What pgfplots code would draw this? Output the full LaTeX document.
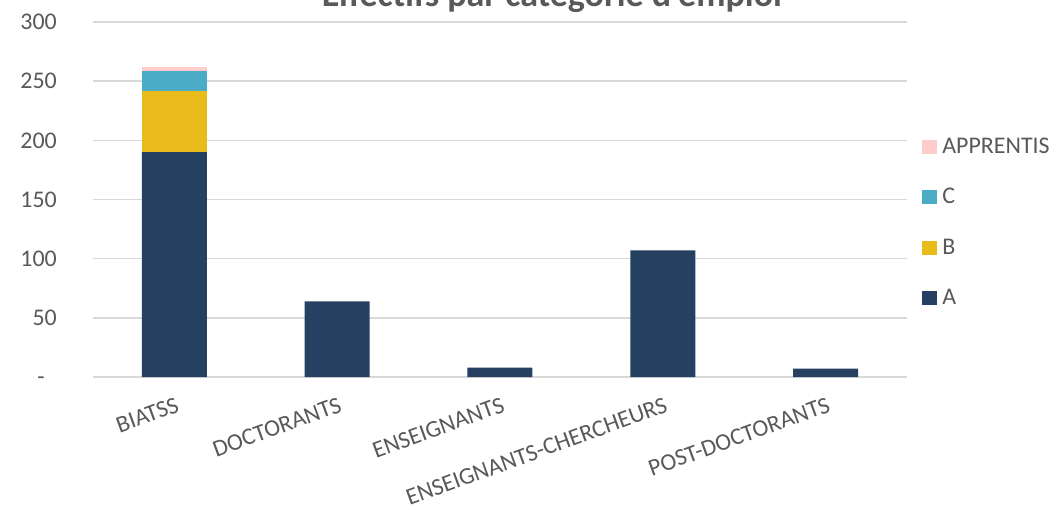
\documentclass[border=0pt]{standalone}
\usepackage{pgfplots}
\pgfplotsset{compat=1.18}
\usepackage{fontspec}
\setmainfont{Carlito}

\definecolor{catA}{HTML}{264061}
\definecolor{catB}{HTML}{E9BC1C}
\definecolor{catC}{HTML}{4BACC6}
\definecolor{catApp}{HTML}{FFCCCC}
\definecolor{txt}{HTML}{595959}
\definecolor{gridc}{HTML}{D9D9D9}

\begin{document}
\begin{tikzpicture}[font=\fontsize{13.6}{15}\selectfont]
\begin{axis}[
    at={(0,0)}, anchor=south west,
    scale only axis,
    width=16.28cm, height=7.1cm,
    ybar stacked,
    bar width=1.3cm,
    xmin=-0.5, xmax=4.5,
    ymin=0, ymax=300,
    xtick={0,1,2,3,4},
    xticklabels={BIATSS, DOCTORANTS, ENSEIGNANTS, ENSEIGNANTS-CHERCHEURS, POST-DOCTORANTS},
    xticklabel style={rotate=20, anchor=north east, text=txt, yshift=-0.25cm, xshift=0cm},
    ytick={0,50,100,150,200,250,300},
    yticklabels={-\phantom{0},50,100,150,200,250,300},
    yticklabel style={text=txt, xshift=-0.6cm},
    major tick length=0pt,
    ymajorgrids,
    grid style={gridc, line width=0.8pt},
    axis line style={draw=none},
    axis x line*=bottom,
    x axis line style={draw=gridc, line width=0.8pt},
    axis y line*=left,
    y axis line style={draw=none},
    /pgf/number format/assume math mode=true,
    legend style={
        at={(1.012,0.435)}, anchor=west,
        draw=none, fill=none,
        text=txt,
        row sep=0.6cm,
        nodes={inner ysep=0pt, inner xsep=0.1cm, text height=0.33cm, text depth=0.08cm},
    },
    legend cell align=left,
    reverse legend,
    legend image code/.code={\fill[#1] (0cm,-0.14cm) rectangle (0.3cm,0.14cm);},
]
\addplot[fill=catA, draw=none] coordinates {(0,190) (1,64) (2,8) (3,107) (4,7)};
\addplot[fill=catB, draw=none] coordinates {(0,52) (1,0) (2,0) (3,0) (4,0)};
\addplot[fill=catC, draw=none] coordinates {(0,17) (1,0) (2,0) (3,0) (4,0)};
\addplot[fill=catApp, draw=none] coordinates {(0,3) (1,0) (2,0) (3,0) (4,0)};
\legend{A, B, C, APPRENTIS}
\end{axis}
\node[anchor=base, text=txt, font=\fontsize{20.5}{24}\selectfont\bfseries] at (9.18cm,7.42cm) {Effectifs par catégorie d’emploi};
\pgfresetboundingbox
\useasboundingbox (-1.86cm,-2.64cm) rectangle (19.18cm,7.54cm);
\end{tikzpicture}
\end{document}
